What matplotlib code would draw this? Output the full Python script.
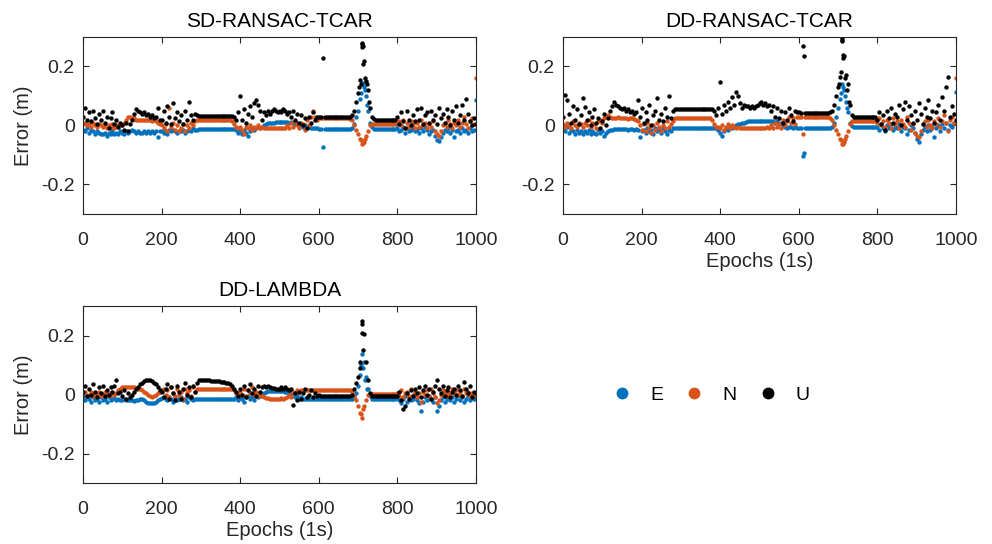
import numpy as np
import matplotlib.pyplot as plt
from matplotlib.lines import Line2D

plt.rcParams['font.family'] = ['Liberation Sans', 'DejaVu Sans']
plt.rcParams['font.size'] = 14

# position errors in cm, one sample every 5 epochs (0..1000)
epochs = np.arange(0, 1001, 5)

sd_e = [
    -1.5, -2.0, -1.0, -2.5, -1.5, -2.0, -3.0, -2.0, -2.5, -3.0,
    -3.0, -2.5, -3.5, -2.5, -3.0, -2.0, -3.0, -2.5, -3.0, -2.0,
    -2.5, -3.0, -2.0, -2.5, -2.0, -1.5, -2.0, -2.5, -2.0, -2.5,
    -2.5, -2.0, -2.5, -2.0, -2.5, -2.0, -2.5, -2.0, -4.0, -2.0,
    -2.0, -2.5, -2.0, -3.0, -1.5, -2.0, -1.5, -2.0, -2.5, -2.0,
    -2.0, -1.5, -2.5, -2.0, -1.5, -2.0, -1.0, -1.5, -1.5, -1.2,
    -1.2, -1.2, -1.1, -1.1, -1.1, -1.1, -1.1, -1.1, -1.1, -1.1,
    -1.1, -1.1, -1.1, -1.1, -1.1, -1.1, -1.2, -1.2, -1.5, -2.5,
    -2.0, -3.0, -1.5, -2.5, -3.5, -2.0, -1.0, -1.5, -1.0, -0.5,
    -1.0, -0.5, 0.0, 0.5, 0.8, 1.0, 1.0, 1.0, 1.2, 1.2,
    1.2, 1.3, 1.2, 1.3, 1.2, 1.0, 1.2, 1.0, 0.5, 1.0,
    0.5, 0.0, -0.5, 0.0, -1.0, -0.5, -1.0, -1.0, -1.0, -1.0,
    -1.1, -1.1, -7.2, -1.1, -1.1, -1.1, -1.1, -1.1, -1.1, -1.1,
    -1.1, -1.1, -1.1, -1.1, -1.1, -1.1, -1.1, -1.0, 0.5, 3.0,
    5.0, 9.0, 14.0, 13.0, 10.0, 5.0, 1.0, -0.5, -1.2, -1.3,
    -1.3, -1.3, -1.3, -1.3, -1.3, -1.3, -1.3, -1.3, -1.3, -1.3,
    -1.0, -2.0, -1.5, -0.5, -2.5, -1.0, -2.0, -1.5, -1.0, -2.0,
    -1.5, -2.5, -1.0, -2.0, -0.5, -1.5, -3.0, -2.0, -1.5, -3.5,
    -5.0, -5.2, -4.0, -2.5, -1.5, -2.0, -1.0, -2.5, -1.5, -4.0,
    -2.0, -1.5, -2.5, -1.0, -2.0, -1.5, -2.5, -1.0, -2.0, -1.5,
    8.7]
sd_n = [
    0.5, 1.0, 0.0, 0.5, -0.5, 1.0, 0.0, -0.5, 0.5, 0.0,
    -0.5, 0.0, -1.0, 0.0, -0.5, 0.5, -1.0, 0.0, -0.5, 0.5,
    0.0, 1.0, 2.0, 3.0, 3.0, 2.5, 2.5, 2.0, 2.0, 2.0,
    2.0, 1.8, 2.0, 1.8, 2.0, 1.5, 2.0, 1.5, 1.0, 0.5,
    0.0, -1.0, 0.5, -2.0, 6.0, -0.5, 1.0, -1.5, 0.0, -2.0,
    -1.0, 0.5, -2.0, 0.0, -1.0, 1.0, 0.0, 1.5, 1.8, 1.8,
    1.8, 1.8, 1.8, 1.8, 1.8, 1.8, 1.8, 1.8, 1.8, 1.8,
    1.8, 1.8, 1.8, 1.8, 1.8, 1.7, 1.5, 0.5, -0.5, -1.0,
    -0.5, -1.5, -3.0, -0.5, -1.0, 0.0, -1.5, -0.5, -1.0, 0.0,
    -1.0, -0.5, -0.8, -1.0, -0.8, -1.0, -0.8, -0.8, -0.8, -0.8,
    -0.8, -0.8, -0.7, -0.8, 0.0, -1.0, 1.0, -0.5, 1.5, 0.0,
    -1.0, 1.0, 0.5, -1.5, 2.0, 0.0, 3.0, 5.0, 3.0, 2.0,
    2.5, 2.5, 2.5, 2.5, 2.5, 2.5, 2.5, 2.5, 2.5, 2.5,
    2.5, 2.5, 2.5, 2.5, 2.5, 2.4, 2.3, 2.0, 0.0, -1.5,
    -3.0, -4.5, -6.3, -5.5, -3.5, -2.0, 0.0, 0.5, 0.5, 0.5,
    0.4, 0.4, 0.4, 0.4, 0.4, 0.4, 0.4, 0.4, 0.4, 0.4,
    0.5, 1.5, 0.0, 2.0, -1.0, 1.0, -0.5, 1.5, 0.5, -1.0,
    1.0, -0.5, 2.0, 0.0, 1.0, -1.0, 0.5, -0.5, 1.5, -2.0,
    -3.0, -3.5, -2.0, 0.0, 1.0, -0.5, 2.0, 0.5, -1.0, 1.0,
    0.0, 2.0, -0.5, 1.0, 3.0, 0.5, -1.0, 1.5, 2.5, 0.5,
    16.0]
sd_u = [
    3.0, 6.0, 2.0, 4.5, 1.5, 5.0, 2.5, 0.5, 4.0, 2.0,
    5.0, 1.0, 3.0, -1.0, 2.5, 4.5, 0.5, 2.0, -0.5, 1.0,
    0.0, -1.5, 1.0, -2.0, 0.5, 2.0, 4.0, 5.5, 5.0, 4.5,
    4.0, 4.5, 3.5, 4.0, 3.0, 3.5, 2.5, 3.0, 6.0, 2.0,
    2.0, 5.0, 1.0, 6.5, 3.0, 0.5, 7.5, 2.5, 4.5, 1.5,
    3.5, 0.5, 5.0, 2.0, 8.0, 3.5, 2.0, 4.0, 3.5, 3.3,
    3.3, 3.3, 3.3, 3.3, 3.3, 3.3, 3.3, 3.3, 3.3, 3.3,
    3.3, 3.3, 3.3, 3.3, 3.3, 3.3, 3.2, 3.0, 2.0, 4.5,
    10.0, 2.0, 5.5, 1.0, 4.0, 6.5, 3.0, 7.5, 8.5, 7.0,
    5.0, 2.0, 4.5, 3.5, 5.0, 4.0, 5.0, 5.5, 5.0, 4.5,
    5.0, 4.5, 5.5, 5.0, 4.0, 4.5, 3.0, 5.0, 2.0, 4.0,
    1.0, 3.5, 0.0, 2.5, -1.0, 3.0, 1.0, 4.5, 2.0, 3.0,
    3.0, 2.9, 22.8, 2.9, 2.9, 2.9, 2.9, 2.9, 2.9, 2.9,
    2.9, 2.9, 2.9, 2.9, 2.9, 2.9, 3.0, 3.5, 5.0, 8.0,
    11.0, 15.5, 27.5, 22.0, 15.0, 12.0, 6.0, 3.0, 2.2, 2.0,
    2.0, 2.0, 2.0, 2.0, 2.0, 2.0, 2.0, 2.0, 2.0, 2.0,
    3.0, 0.5, 4.5, 1.5, -1.0, 5.0, 2.0, 0.0, 3.5, 1.5,
    5.5, 2.0, 6.0, 0.5, 3.5, 4.5, 1.0, 5.0, 2.0, 3.5,
    0.5, 6.0, 2.5, 4.0, 1.0, 5.5, 3.0, 0.0, 5.0, 2.0,
    6.5, 1.0, 3.5, 7.0, 2.0, 9.0, 4.0, 1.5, 0.0, 2.5,
    0.5]

dd_e = [
    -1.0, -2.0, -0.5, -2.5, -1.5, -2.0, -3.0, -1.5, -2.5, -2.0,
    -3.0, -2.0, -2.5, -1.5, -3.0, -2.0, -2.5, -3.0, -1.5, -2.5,
    -2.0, -3.5, -2.5, -2.0, -1.5, -1.5, -1.3, -1.3, -1.3, -1.3,
    -1.3, -1.3, -1.3, -1.5, -1.3, -1.3, -1.5, -1.3, -1.5, -4.0,
    -2.0, -1.5, -2.5, -1.0, -2.0, -1.5, -3.0, -1.0, -2.0, -1.5,
    -2.5, -1.0, -2.0, -3.0, -1.5, -2.0, -1.0, -0.8, -0.8, -0.8,
    -0.8, -0.8, -0.8, -0.8, -0.8, -0.8, -0.8, -0.8, -0.8, -0.8,
    -0.8, -0.8, -0.8, -0.8, -0.8, -0.8, -0.8, -0.8, -1.0, -1.5,
    -2.5, -3.5, -2.0, -1.0, -1.5, -0.5, -1.0, -0.5, 0.0, 0.5,
    0.5, 1.0, 1.0, 1.2, 1.5, 1.5, 1.5, 1.5, 1.5, 1.5,
    1.6, 1.6, 1.6, 1.6, 1.6, 1.6, 1.5, 1.5, 1.0, 1.5,
    0.5, 1.0, 0.0, -0.5, -1.0, -0.5, -0.5, -1.0, -0.5, -0.8,
    -0.8, -0.8, -10.5, -0.8, -0.8, -0.8, -0.8, -0.8, -0.8, -0.8,
    -0.8, -0.8, -0.8, -0.8, -0.8, -0.8, -0.8, -0.5, 1.0, 3.0,
    6.0, 9.0, 14.0, 12.0, 8.0, 4.5, 1.0, -0.3, -0.5, -0.5,
    -0.5, -0.5, -0.5, -0.5, -0.5, -0.5, -0.5, -0.5, -0.5, -0.5,
    -0.5, -1.5, 0.5, -1.0, -2.0, 0.0, -1.0, 0.5, -1.5, -0.5,
    -1.0, 0.5, -2.0, -0.5, -1.0, -3.0, -1.5, 0.0, -1.0, -2.5,
    -4.5, -5.5, -3.0, -1.5, -0.5, -2.0, 0.0, -1.5, -0.5, -4.0,
    -1.0, 0.0, -2.0, 0.5, -1.0, 1.0, -1.5, 0.0, -0.5, 1.0,
    11.5]
dd_n = [
    0.5, -0.5, 1.0, 0.0, -1.0, 1.5, 0.0, -0.5, 1.0, 0.5,
    -0.5, 1.0, 0.0, 2.0, -0.5, 1.0, 0.5, -1.0, 1.5, 2.0,
    1.0, 2.5, 3.0, 3.5, 3.0, 2.5, 2.5, 2.5, 2.8, 2.5,
    2.5, 2.5, 2.5, 2.3, 2.5, 2.5, 2.3, 2.0, 1.5, 0.0,
    -1.5, 0.5, -2.0, 1.0, -1.0, -2.5, 0.0, -1.5, 1.0, -0.5,
    -2.0, 0.0, -1.0, 1.5, -0.5, 0.5, 1.5, 2.5, 2.5, 2.5,
    2.5, 2.5, 2.5, 2.5, 2.5, 2.5, 2.5, 2.5, 2.5, 2.5,
    2.5, 2.5, 2.5, 2.5, 2.5, 2.4, 2.0, 0.5, -0.5, -0.5,
    -1.0, 0.0, -1.5, -0.5, 0.5, -1.0, 0.0, -0.5, -1.0, -0.5,
    -0.8, -0.8, -0.8, -0.8, -0.8, -0.8, -0.8, -0.8, -0.8, -0.8,
    -0.8, -0.8, -0.7, -0.8, -0.5, -1.0, 0.0, -1.0, 1.0, -0.5,
    0.5, -1.0, 2.0, 0.0, 1.5, 3.0, 1.0, 2.5, 0.5, 3.0,
    3.0, 3.0, -3.0, 3.0, 2.8, 3.0, 2.8, 3.0, 2.8, 3.0,
    2.8, 3.0, 2.8, 3.0, 2.8, 2.8, 2.5, 2.0, 0.0, -1.5,
    -3.0, -4.5, -6.3, -5.5, -3.5, -2.0, 0.5, 1.5, 1.5, 1.5,
    1.5, 1.5, 1.5, 1.5, 1.5, 1.5, 1.5, 1.5, 1.5, 1.5,
    1.0, 2.5, 0.0, 1.5, -0.5, 2.0, 1.0, -1.0, 2.5, 0.5,
    1.5, -1.0, 2.0, 0.5, -0.5, 3.0, 1.0, -1.5, 0.5, -2.5,
    -3.5, -4.0, -2.0, 0.5, 1.5, -0.5, 2.0, 0.0, -1.0, 1.5,
    0.5, 2.5, -0.5, 1.5, 3.5, 1.0, -2.0, 2.0, 3.0, 1.0,
    16.0]
dd_u = [
    3.0, 10.3, 8.7, 4.0, 1.0, 6.5, 2.0, 5.5, 0.5, 3.5,
    9.2, 6.4, 2.0, 4.5, 0.0, 3.0, 5.5, 1.0, 2.5, -1.0,
    1.5, 4.0, 0.0, 2.5, 5.0, 6.5, 8.1, 7.0, 6.5, 6.0,
    5.5, 6.0, 5.0, 5.5, 4.5, 5.0, 4.0, 4.5, 8.7, 3.0,
    6.0, 1.0, 4.5, 2.0, 7.0, 0.0, 3.5, 5.0, 9.2, 2.0,
    4.0, 1.5, 6.0, 3.0, 10.0, 2.5, 5.0, 5.7, 5.7, 5.7,
    5.7, 5.7, 5.7, 5.7, 5.7, 5.7, 5.7, 5.7, 5.7, 5.7,
    5.7, 5.7, 5.7, 5.7, 5.7, 5.7, 5.5, 5.0, 3.5, 6.0,
    14.8, 4.0, 7.0, 5.0, 8.0, 6.0, 9.5, 7.0, 11.4, 10.0,
    7.5, 6.0, 7.0, 6.5, 6.5, 6.0, 6.5, 6.0, 6.5, 7.0,
    7.5, 8.0, 7.0, 7.5, 6.5, 7.0, 5.0, 6.5, 3.0, 6.0,
    2.5, 5.0, 1.0, 4.5, 2.0, 6.0, 3.5, 1.5, 5.0, 4.5,
    4.5, 4.3, 26.8, 4.2, 4.2, 4.2, 4.2, 4.2, 4.2, 4.2,
    4.2, 4.2, 4.2, 4.2, 4.2, 4.2, 4.5, 5.0, 7.0, 10.0,
    13.0, 16.5, 29.0, 23.5, 17.0, 14.0, 7.0, 3.5, 3.0, 2.9,
    2.9, 2.9, 2.9, 2.9, 2.9, 2.9, 2.9, 2.9, 2.9, 2.9,
    2.0, 4.5, 0.5, 3.5, -1.5, 5.0, 2.5, 6.0, 1.0, 4.0,
    3.0, 7.0, 0.0, 5.5, 8.0, 2.0, 6.5, 3.5, 1.0, 5.0,
    2.0, 7.5, 4.0, 0.5, 6.0, 3.0, 8.5, 2.5, 5.0, 1.0,
    4.5, 7.0, 2.0, 9.5, 5.0, 12.9, 16.4, 3.0, 6.5, 4.0,
    2.0]

lam_e = [
    -1.0, -2.0, -0.5, -1.5, -2.5, -1.0, -2.0, -1.5, -2.5, -1.0,
    -2.0, -1.5, -2.5, -1.0, -2.0, -1.5, -1.0, -2.0, -1.5, -2.0,
    -2.0, -1.5, -2.0, -2.0, -2.0, -2.0, -2.2, -2.0, -1.8, -1.5,
    -1.5, -2.0, -2.5, -3.0, -3.0, -3.0, -2.8, -2.5, -2.0, -1.5,
    -1.2, -1.0, -1.5, -2.0, -1.0, -1.5, -2.5, -1.0, -2.0, -1.5,
    -1.0, -2.0, -1.5, -2.5, -1.0, -1.5, -2.0, -1.5, -1.4, -1.4,
    -1.4, -1.4, -1.4, -1.4, -1.4, -1.4, -1.4, -1.4, -1.4, -1.4,
    -1.4, -1.4, -1.4, -1.4, -1.4, -1.4, -1.4, -1.5, -1.0, -2.0,
    -1.0, -1.5, -2.5, -1.0, -0.5, -1.5, -1.0, -2.0, -0.5, -1.0,
    -0.5, 0.0, 0.5, 1.0, 1.2, 1.3, 1.3, 1.3, 1.3, 1.3,
    1.3, 1.2, 1.3, 1.0, 1.0, 0.5, 0.0, 0.5, -1.0, -0.5,
    -1.5, -1.0, -1.6, -1.6, -1.6, -1.6, -1.6, -1.6, -1.6, -1.6,
    -1.6, -1.6, -1.6, -1.6, -1.6, -1.6, -1.6, -1.6, -1.6, -1.6,
    -1.6, -1.6, -1.6, -1.6, -1.6, -1.6, -1.6, -1.6, -1.0, 0.5,
    3.0, 6.6, 13.8, 11.0, 6.0, 2.0, -0.5, -1.5, -1.6, -1.6,
    -1.6, -1.6, -1.6, -1.6, -1.6, -1.6, -1.6, -1.6, -1.6, -1.6,
    -1.0, -2.0, -3.0, -1.5, -0.5, -2.5, -1.0, -2.0, -1.5, -0.5,
    -2.0, -3.0, -5.5, -2.5, -1.0, -2.0, -0.5, -1.5, -2.5, -1.0,
    -5.5, -4.0, -2.0, -1.0, -2.5, -1.5, -0.5, -2.0, -1.0, -2.5,
    -1.5, -0.5, -2.0, -1.0, -2.5, -1.5, -0.5, -2.0, -1.0, -1.5,
    -1.0]
lam_n = [
    0.5, 1.0, -0.5, 0.0, 1.0, -0.5, 0.5, 0.0, 1.0, -0.5,
    0.0, 1.0, 0.5, -0.5, 0.5, 1.0, 0.0, 0.5, 1.5, 2.0,
    2.5, 2.7, 2.7, 2.5, 2.7, 2.5, 2.5, 2.2, 2.0, 1.8,
    1.5, 1.0, 0.5, 0.0, -0.5, -0.8, -0.5, 0.0, 0.5, 1.0,
    1.5, 2.0, 0.0, 1.5, -1.0, 2.5, 0.5, -0.5, 2.0, 0.0,
    1.0, -1.5, 2.0, 0.5, 1.5, -0.5, 2.5, 1.0, 1.8, 1.8,
    1.8, 1.8, 1.8, 1.8, 1.8, 1.8, 1.8, 1.8, 1.8, 1.8,
    1.8, 1.8, 1.8, 1.8, 1.8, 1.8, 1.8, 1.5, 0.5, -0.5,
    1.0, 0.0, 2.0, -0.5, 1.5, 0.5, 2.5, 0.0, 1.0, -0.5,
    0.5, -0.5, -1.0, -1.2, -1.3, -1.4, -1.4, -1.4, -1.4, -1.4,
    -1.4, -1.3, -1.4, -1.2, -1.0, 0.0, -1.0, 1.0, 0.5, 1.5,
    1.0, 1.5, 1.4, 1.4, 1.4, 1.4, 1.4, 1.4, 1.4, 1.4,
    1.4, 1.4, 1.4, 1.4, 1.4, 1.4, 1.4, 1.4, 1.4, 1.4,
    1.4, 1.4, 1.4, 1.4, 1.4, 1.4, 1.4, 1.0, -0.5, -2.0,
    -4.0, -6.2, -7.9, -4.0, -1.8, 0.0, 0.1, 0.1, 0.1, 0.1,
    0.1, 0.1, 0.1, 0.1, 0.1, 0.1, 0.1, 0.1, 0.1, 0.1,
    0.5, -0.5, 1.5, -1.0, 0.5, 1.0, -0.5, 2.0, 0.0, 1.0,
    -1.0, 0.5, -2.5, 1.0, 0.0, 1.5, -0.5, 2.0, 0.5, -1.0,
    -3.0, -2.0, 0.0, 1.5, 0.5, -0.5, 1.0, 0.0, 2.0, 0.5,
    1.5, 0.0, 1.0, -0.5, 2.0, 0.5, 1.0, -0.5, 0.5, 0.0,
    0.5]
lam_u = [
    1.0, 3.0, -0.5, 2.0, 0.0, 3.5, 1.0, -1.0, 2.5, 0.5,
    3.0, -0.5, 1.5, 0.0, 2.5, 1.0, 3.0, 4.9, 0.5, 1.0,
    -0.5, 1.5, -1.5, 0.5, -1.0, 0.0, 1.0, 2.0, 2.5, 3.5,
    4.0, 4.5, 4.9, 4.9, 4.8, 4.5, 4.0, 3.5, 2.5, 1.5,
    1.0, -1.0, 2.0, 3.5, -1.5, 2.5, 0.5, -2.0, 3.0, 1.0,
    -1.5, 2.0, 4.0, 0.0, 2.5, -1.0, 3.0, 1.0, 4.0, 4.9,
    5.0, 5.0, 4.9, 4.8, 4.8, 4.7, 4.7, 4.6, 4.5, 4.5,
    4.4, 4.3, 4.2, 4.0, 3.8, 3.5, 3.0, 2.0, 1.0, -0.5,
    2.0, 0.0, 3.0, -1.0, 1.5, 3.5, 0.5, 2.0, -0.5, 3.0,
    1.0, 2.5, 3.0, 2.5, 2.8, 2.5, 2.3, 2.2, 2.0, 2.0,
    2.0, 2.5, 2.0, 2.5, 2.0, 1.5, 2.0, -3.4, 0.5, -2.0,
    1.0, -1.5, 0.5, 2.0, -1.0, 0.0, 1.5, -1.0, 0.5, -0.5,
    -0.3, -0.4, -0.4, -0.4, -0.4, -0.4, -0.4, -0.4, -0.4, -0.4,
    -0.4, -0.4, -0.4, -0.4, -0.4, -0.4, -0.4, 0.0, 2.0, 4.0,
    6.0, 11.0, 25.0, 20.5, 11.0, 5.0, 0.5, -0.5, -0.5, -0.5,
    -0.5, -0.5, -0.5, -0.5, -0.5, -0.5, -0.5, -0.5, -0.5, -0.5,
    -0.5, 1.0, -2.0, -5.0, -4.0, 0.5, -1.5, 1.5, -0.5, 2.0,
    0.5, 2.5, -1.0, 1.5, 3.0, 0.0, 2.0, -1.5, 1.0, 3.0,
    4.9, 2.0, 0.5, 3.0, -0.5, 1.5, 2.5, -1.0, 1.0, 2.0,
    0.0, 3.0, 1.5, -0.5, 4.4, 2.0, 0.5, 3.0, -1.0, 1.0,
    0.5]

# extra samples around the jump near epoch 710 and isolated outliers (cm)
sd_extra_t = {'E': [707, 712, 717, 722], 'N': [707, 712, 717],
              'U': [703, 707, 709, 711, 712, 713, 717, 722, 727]}
sd_extra_v = {'E': [11.0, 14.5, 12.0, 7.0], 'N': [-5.0, -6.0, -4.5],
              'U': [13.0, 14.0, 26.5, 28.0, 27.0, 21.0, 16.0, 14.0, 8.0]}
dd_extra_t = {'E': [613, 707, 712, 717, 722], 'N': [707, 712, 717],
              'U': [613, 703, 707, 709, 711, 712, 713, 717, 722, 727]}
dd_extra_v = {'E': [-9.3, 11.0, 13.0, 10.0, 6.0], 'N': [-5.0, -6.3, -4.5],
              'U': [23.7, 14.0, 18.0, 28.5, 29.5, 24.0, 23.0, 16.0, 12.0, 8.0]}
lam_extra_t = {'E': [708, 713, 717, 722], 'N': [708, 713],
               'U': [705, 709, 711, 713]}
lam_extra_v = {'E': [10.0, 9.0, 4.9, 2.0], 'N': [-6.5, -5.0],
               'U': [9.0, 21.0, 24.0, 15.0]}

components = ['E', 'N', 'U']
colors = {'E': '#0072BD', 'N': '#D95319', 'U': '#000000'}
axis_col = '#262626'


def draw_panel(ax, title, series, extra_t, extra_v, xlabel=None, ylabel=None):
    for c in components:
        ax.scatter(epochs, np.array(series[c]) / 100, s=10, color=colors[c], linewidths=0, zorder=2)
        ax.scatter(extra_t[c], np.array(extra_v[c]) / 100, s=10, color=colors[c], linewidths=0, zorder=2)
    ax.set_xlim(0, 1000)
    ax.set_ylim(-0.3, 0.3)
    ax.set_xticks(range(0, 1001, 200))
    ax.set_yticks([-0.2, 0, 0.2])
    ax.set_yticklabels(['-0.2', '0', '0.2'])
    ax.tick_params(direction='in', top=True, right=True, length=4, width=0.8,
                   colors=axis_col, labelsize=14)
    ax.tick_params(axis='x', pad=13)
    ax.tick_params(axis='y', pad=6)
    for sp in ax.spines.values():
        sp.set_color(axis_col)
        sp.set_linewidth(0.8)
    ax.set_title(title, fontsize=15, pad=7, color='black')
    if xlabel:
        ax.set_xlabel(xlabel, fontsize=14.5, color=axis_col, labelpad=2)
    if ylabel:
        ax.set_ylabel(ylabel, fontsize=14.5, color=axis_col, labelpad=6)


fig = plt.figure(figsize=(9.92, 5.44), dpi=100)
W, H = 992, 544
ax1 = fig.add_axes([83 / W, 1 - 214 / H, 393 / W, 177 / H])
ax2 = fig.add_axes([563 / W, 1 - 214 / H, 393 / W, 177 / H])
ax3 = fig.add_axes([83 / W, 1 - 483 / H, 393 / W, 177 / H])

draw_panel(ax1, 'SD-RANSAC-TCAR', {'E': sd_e, 'N': sd_n, 'U': sd_u},
           sd_extra_t, sd_extra_v, ylabel='Error (m)')
draw_panel(ax2, 'DD-RANSAC-TCAR', {'E': dd_e, 'N': dd_n, 'U': dd_u},
           dd_extra_t, dd_extra_v, xlabel='Epochs (1s)')
draw_panel(ax3, 'DD-LAMBDA', {'E': lam_e, 'N': lam_n, 'U': lam_u},
           lam_extra_t, lam_extra_v, xlabel='Epochs (1s)', ylabel='Error (m)')

handles = [Line2D([], [], marker='o', linestyle='none', markersize=7.5,
                  markerfacecolor=colors[c], markeredgecolor=colors[c]) for c in components]
fig.legend(handles, components, loc='center', bbox_to_anchor=(711 / W, 1 - 395 / H),
           ncol=3, frameon=False, fontsize=14, handletextpad=0.95, columnspacing=1.1,
           handlelength=1.0)

fig.savefig('out.png', dpi=100)
